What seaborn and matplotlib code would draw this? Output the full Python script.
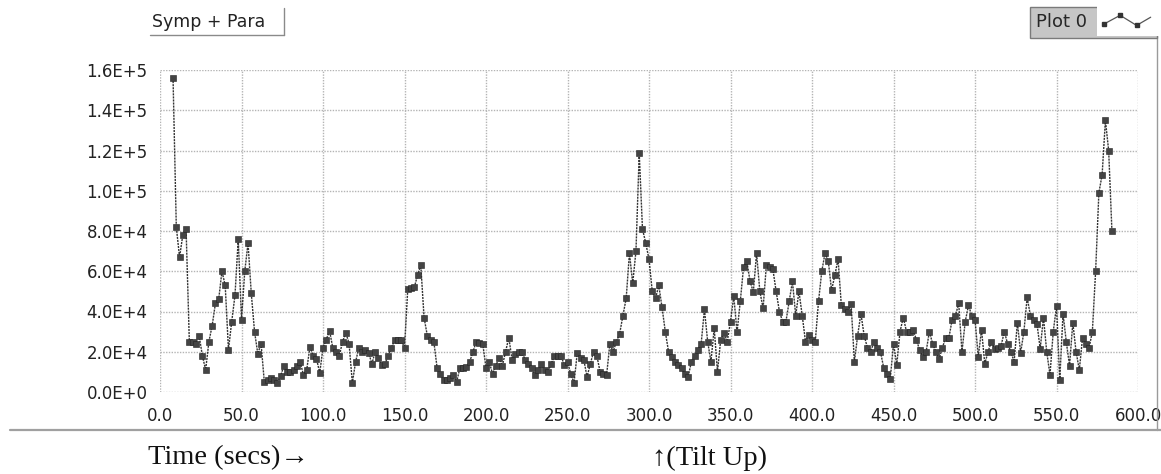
import numpy as np
import pandas as pd
import matplotlib
matplotlib.use("Agg")
import matplotlib.pyplot as plt
import seaborn as sns
from matplotlib.lines import Line2D
from matplotlib.patches import Rectangle
from matplotlib.legend_handler import HandlerBase

# Sampling of the recording (seconds)
T0 = 8.0
DT = 2.0

# Symp + Para power, one value per sample
signal = [
    156000, 82000, 67000, 78000, 81000, 25000, 25000, 24000, 28000, 18000,
    11000, 25000, 33000, 44000, 46000, 60000, 53000, 21000, 35000, 48000,
    76000, 36000, 60000, 74000, 49000, 30000, 19000, 24000, 5000, 6000,
    7000, 6000, 4500, 8000, 13000, 10000, 10000, 11000, 13000, 15000,
    8500, 11000, 22500, 18000, 16500, 9500, 22000, 26000, 30500, 22000,
    20000, 18000, 25000, 29500, 24000, 4500, 15000, 22000, 20000, 21000,
    19500, 14000, 20000, 17000, 13500, 14000, 18000, 22000, 26000, 26000,
    26000, 22000, 51000, 51500, 52000, 58000, 63000, 37000, 28000, 26000,
    25000, 12000, 9000, 6000, 6000, 7000, 8500, 5000, 12000, 12000,
    12500, 15000, 20000, 25000, 24500, 24000, 12000, 15000, 9000, 13000,
    17000, 13000, 20000, 27000, 16000, 19000, 20000, 20000, 16000, 14000,
    12000, 8500, 11000, 14000, 11000, 10000, 14000, 18000, 18000, 18000,
    13500, 15000, 9000, 4500, 19500, 17000, 16000, 7500, 14000, 20000,
    18000, 10000, 9000, 8500, 24000, 20000, 25000, 29000, 38000, 46500,
    69000, 54000, 70000, 118600, 81000, 74000, 66000, 50000, 46500, 53000,
    42000, 30000, 20000, 17400, 15000, 13500, 12000, 9000, 7500, 15000,
    18000, 21000, 24000, 41000, 25000, 15000, 31700, 10000, 26000, 29500,
    25000, 35000, 47700, 29600, 45000, 62000, 65000, 55000, 49700, 69000,
    50000, 41600, 63000, 62000, 61000, 50000, 40000, 35000, 35000, 45000,
    55000, 38000, 50000, 38000, 25000, 28500, 26000, 25000, 45000, 60000,
    69000, 65000, 50500, 58000, 66000, 43000, 41000, 40000, 43600, 15000,
    28000, 39000, 28000, 22000, 20000, 25000, 22000, 20000, 12000, 9000,
    6500, 24000, 13500, 30000, 37000, 30000, 30000, 31000, 26000, 21000,
    17500, 20000, 30000, 24000, 20000, 16600, 22000, 27000, 27000, 36000,
    38000, 44000, 20000, 35000, 43000, 38000, 36000, 17500, 31000, 14000,
    20000, 25000, 21500, 22000, 23000, 30000, 24000, 20000, 15000, 34500,
    19500, 30000, 47000, 38000, 36000, 34000, 21500, 37000, 20000, 8500,
    30000, 42500, 6000, 39000, 25000, 13000, 34500, 20000, 11000, 27000,
    24000, 22000, 30000, 60000, 99000, 108000, 135000, 120000, 80000,
]

x_ticks = [0, 50, 100, 150, 200, 250, 300, 350, 400, 450, 500, 550, 600]
x_tick_labels = ["0.0", "50.0", "100.0", "150.0", "200.0", "250.0", "300.0",
                 "350.0", "400.0", "450.0", "500.0", "550.0", "600.0"]
y_ticks = [0, 20000, 40000, 60000, 80000, 100000, 120000, 140000, 160000]
y_tick_labels = ["0.0E+0", "2.0E+4", "4.0E+4", "6.0E+4", "8.0E+4",
                 "1.0E+5", "1.2E+5", "1.4E+5", "1.6E+5"]

series_name = "Plot 0"
graph_title = "Symp + Para"

df = pd.DataFrame({"time": T0 + DT * np.arange(len(signal)), "value": signal})

sns.set_style("white")
plt.rcParams["font.family"] = ["DejaVu Sans"]

W, H = 1161, 474
fig = plt.figure(figsize=(W / 100, H / 100), dpi=100)
fig.patch.set_facecolor("white")

left, right, top, bottom = 160, 1138, 70, 392
ax = fig.add_axes([left / W, 1 - bottom / H, (right - left) / W, (bottom - top) / H])

line_color = "#333333"
sns.lineplot(data=df, x="time", y="value", ax=ax, sort=False, estimator=None,
             color=line_color, linewidth=1.0, linestyle=(0, (1.5, 0.7)),
             marker="s", markersize=3.8, markeredgewidth=0.4,
             markerfacecolor="#444444", markeredgecolor="#222222",
             label=series_name, legend=False)

ax.set_xlim(0, 600)
ax.set_ylim(0, 160000)
ax.set_xticks(x_ticks)
ax.set_xticklabels(x_tick_labels)
ax.set_yticks(y_ticks)
ax.set_yticklabels(y_tick_labels)
ax.set_xlabel("")
ax.set_ylabel("")

for s in ax.spines.values():
    s.set_visible(False)
ax.grid(True, color="#b4b4b4", linestyle=(0, (1, 1)), linewidth=1.0)
ax.set_axisbelow(True)
ax.tick_params(axis="both", which="major", direction="out", length=7, width=1.0,
               color="#222222", labelsize=12, labelcolor="#222222")
ax.tick_params(axis="y", pad=2)
ax.tick_params(axis="x", pad=4)


class ZigzagHandler(HandlerBase):
    def create_artists(self, legend, orig_handle, xdescent, ydescent,
                       width, height, fontsize, trans):
        bg = Rectangle((-xdescent - 5, -ydescent - 6), width + 12, height + 12,
                       facecolor="white", edgecolor="none", transform=trans)
        xs = np.array([0.0, 0.35, 0.7, 1.0]) * width - xdescent
        ys = np.array([0.25, 0.95, 0.15, 0.8]) * height - ydescent
        ln = Line2D(xs, ys, color="#555555", lw=0.9, transform=trans)
        mk = Line2D(xs[:3], ys[:3], color="#333333", lw=0, marker="s",
                    markersize=2.5, transform=trans)
        return [bg, ln, mk]


handle = Line2D([0], [0], color=line_color, marker="s")
leg = fig.legend([handle], [series_name], handler_map={Line2D: ZigzagHandler()},
                 loc="upper right", bbox_to_anchor=(1157 / W, 1 - 7 / H),
                 bbox_transform=fig.transFigure, markerfirst=False,
                 fontsize=13, frameon=True, fancybox=False, framealpha=1,
                 facecolor="#c6c6c6", edgecolor="#7a7a7a", borderpad=0.35,
                 handlelength=2.6, handletextpad=0.9, borderaxespad=0)
leg.get_frame().set_linewidth(1.0)

# Graph caption box in the top-left corner
fig.text(152 / W, 1 - 22 / H, graph_title, fontsize=12.5, color="#222222",
         ha="left", va="center")
fig.add_artist(Line2D([150 / W, 284 / W], [1 - 35 / H, 1 - 35 / H],
                      transform=fig.transFigure, color="#8a8a8a", lw=1.0))
fig.add_artist(Line2D([284 / W, 284 / W], [1 - 8 / H, 1 - 35 / H],
                      transform=fig.transFigure, color="#8a8a8a", lw=1.0))

# Panel border lines
fig.add_artist(Line2D([1157 / W, 1157 / W], [1 - 36 / H, 1 - 430 / H],
                      transform=fig.transFigure, color="#9a9a9a", lw=1.0))
fig.add_artist(Line2D([10 / W, 1 / 1], [1 - 430 / H, 1 - 430 / H],
                      transform=fig.transFigure, color="#a0a0a0", lw=1.6))

serif = ["Liberation Serif", "DejaVu Serif"]
fig.text(148 / W, 1 - 458 / H, "Time (secs)\u2192", fontsize=20.5, family=serif,
         color="#111111", ha="left", va="center")
fig.text(652 / W, 1 - 458 / H, "\u2191(Tilt Up)", fontsize=20.5, family=serif,
         color="#111111", ha="left", va="center")

fig.savefig("out.png", dpi=100, facecolor="white")
